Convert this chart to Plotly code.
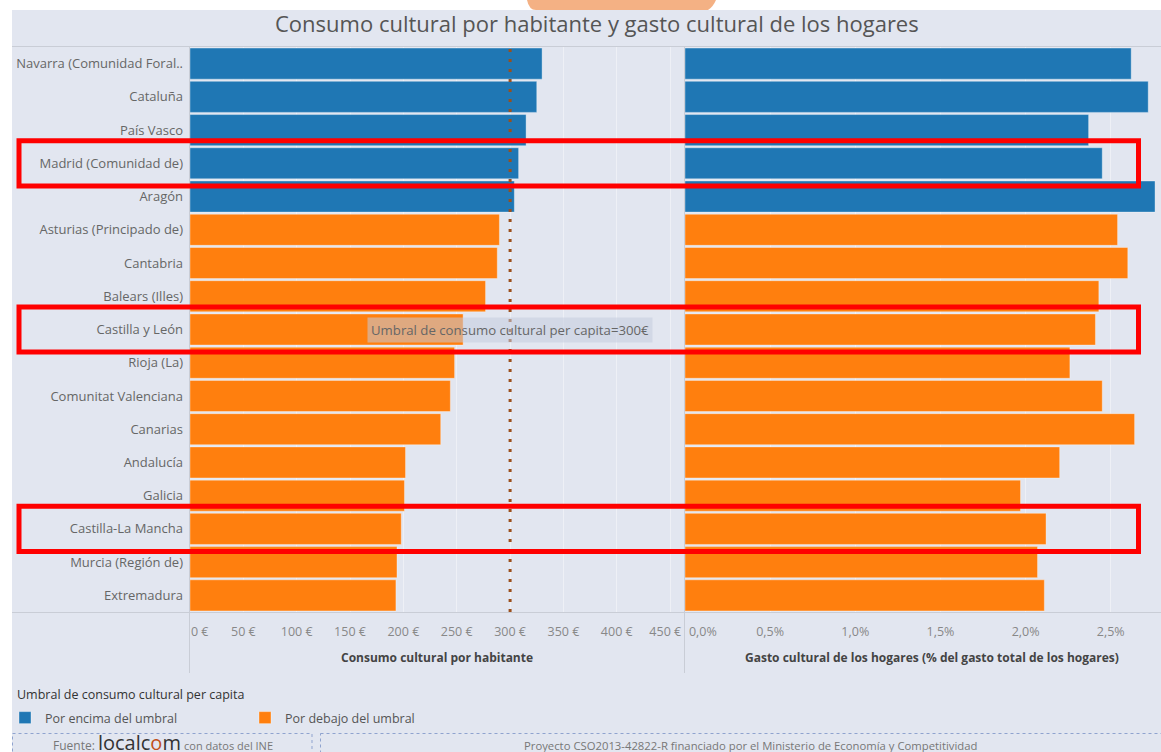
import plotly.graph_objects as go
from plotly.subplots import make_subplots

W, H = 1161, 752

# datos
regiones = [
    "Navarra (Comunidad Foral..", "Cataluña", "País Vasco", "Madrid (Comunidad de)",
    "Aragón", "Asturias (Principado de)", "Cantabria", "Balears (Illes)",
    "Castilla y León", "Rioja (La)", "Comunitat Valenciana", "Canarias",
    "Andalucía", "Galicia", "Castilla-La Mancha", "Murcia (Región de)", "Extremadura",
]
consumo = [330, 325, 315, 308, 304, 290, 288, 277, 256, 248, 244, 235, 202, 201, 198, 194, 193]
gasto = [2.62, 2.72, 2.37, 2.45, 2.76, 2.54, 2.60, 2.43, 2.41, 2.26, 2.45, 2.64, 2.20, 1.97, 2.12, 2.07, 2.11]
umbral = 300
destacadas = ["Madrid (Comunidad de)", "Castilla y León", "Castilla-La Mancha"]

ticks_euro = [0, 50, 100, 150, 200, 250, 300, 350, 400, 450]
ticks_pct = [0.0, 0.5, 1.0, 1.5, 2.0, 2.5]

AZUL = "#1f77b4"
NARANJA = "#ff7f0e"
FONDO = "#e2e6f0"
FONT = "Open Sans"
NB = "\u00a0"


def px(x):
    return x / W


def py(y):
    return 1 - y / H


# etiquetas de los extremos desplazadas hacia dentro, como en Tableau
txt_euro = [f"{t} €" for t in ticks_euro]
txt_euro[0] = NB * 6 + txt_euro[0]
txt_euro[-1] = txt_euro[-1] + NB * 3
txt_pct = [f"{t:.1f}%".replace(".", ",") for t in ticks_pct]
txt_pct[0] = NB * 11 + txt_pct[0]

encima = [c >= umbral for c in consumo]

fig = make_subplots(rows=1, cols=2, shared_yaxes=True)

grupos = [
    (True, "Por encima del umbral", AZUL),
    (False, "Por debajo del umbral", NARANJA),
]
for flag, nombre, color in grupos:
    ys = [r for r, e in zip(regiones, encima) if e == flag]
    xc = [c for c, e in zip(consumo, encima) if e == flag]
    xg = [g for g, e in zip(gasto, encima) if e == flag]
    fig.add_trace(go.Bar(
        y=ys, x=xc, orientation="h", name=nombre, legendgroup=nombre,
        marker=dict(color=color, line=dict(color="rgba(255,255,255,0.35)", width=1)),
        hovertemplate="%{y}<br>%{x:.0f} €<extra></extra>",
    ), row=1, col=1)
    fig.add_trace(go.Bar(
        y=ys, x=xg, orientation="h", name=nombre, legendgroup=nombre, showlegend=False,
        marker=dict(color=color, line=dict(color="rgba(255,255,255,0.35)", width=1)),
        hovertemplate="%{y}<br>%{x:.2f}%<extra></extra>",
    ), row=1, col=2)

shapes = [
    # fondo general
    dict(type="rect", xref="paper", yref="paper", x0=px(12), x1=1, y0=0, y1=py(10),
         fillcolor=FONDO, line=dict(width=0), layer="below"),
    # adorno superior
    dict(type="path", xref="paper", yref="paper", layer="below",
         path=f"M {px(527)},{py(0)} Q {px(529)},{py(10)} {px(536)},{py(10)} "
              f"L {px(708)},{py(10)} Q {px(713)},{py(7)} {px(716)},{py(0)} Z",
         fillcolor="#f4b184", line=dict(width=0)),
    # lineas de estructura
    dict(type="line", xref="paper", yref="paper", x0=px(12), x1=1, y0=py(46.5), y1=py(46.5),
         line=dict(color="#c9cdd6", width=1)),
    dict(type="line", xref="paper", yref="paper", x0=px(12), x1=1, y0=py(612.5), y1=py(612.5),
         line=dict(color="#c9cdd6", width=1)),
    dict(type="line", xref="paper", yref="paper", x0=px(189.5), x1=px(189.5), y0=py(46.5), y1=py(673),
         line=dict(color="#c9cdd6", width=1)),
    dict(type="line", xref="paper", yref="paper", x0=px(684.5), x1=px(684.5), y0=py(46.5), y1=py(673),
         line=dict(color="#c9cdd6", width=1)),
    # umbral
    dict(type="line", xref="x", yref="y domain", x0=umbral, x1=umbral, y0=0, y1=1,
         line=dict(color="#9c4f1c", width=3, dash="3px,7px")),
    # pie
    dict(type="rect", xref="paper", yref="paper", x0=px(12.5), x1=px(312), y0=py(733.5), y1=py(770),
         line=dict(color="#8fa3cf", width=1, dash="dot"), fillcolor="rgba(0,0,0,0)"),
    dict(type="rect", xref="paper", yref="paper", x0=px(320.5), x1=px(1170), y0=py(733.5), y1=py(770),
         line=dict(color="#8fa3cf", width=1, dash="dot"), fillcolor="rgba(0,0,0,0)"),
]

# recuadros rojos sobre las comunidades destacadas
for reg in destacadas:
    i = regiones.index(reg)
    shapes.append(dict(type="rect", xref="paper", yref="y", x0=px(19), x1=px(1138.5),
                       y0=i - 0.68, y1=i + 0.68, line=dict(color="#ff0000", width=5),
                       fillcolor="rgba(0,0,0,0)", layer="above"))

annotations = [
    dict(text="Consumo cultural por habitante y gasto cultural de los hogares",
         xref="paper", yref="paper", x=px(597), y=py(23), font=dict(family=FONT, size=22, color="#555")),
    dict(text=f"Umbral de consumo cultural per capita={umbral}€", xref="x", yref="y",
         x=umbral, y="Castilla y León",
         bgcolor="rgba(196,204,222,0.55)", borderpad=3,
         font=dict(family=FONT, size=13.2, color="#666")),
    dict(text="<b>Consumo cultural por habitante</b>", xref="paper", yref="paper",
         x=px(437), y=py(657), font=dict(family=FONT, size=12, color="#444")),
    dict(text="<b>Gasto cultural de los hogares (% del gasto total de los hogares)</b>",
         xref="paper", yref="paper", x=px(932), y=py(657),
         font=dict(family=FONT, size=12, color="#444")),
    dict(text="Umbral de consumo cultural per capita", xref="paper", yref="paper",
         x=px(15), y=py(694), xanchor="left", font=dict(family=FONT, size=12.5, color="#333")),
    dict(text="Fuente: <span style='font-size:20px;color:#333'>localc"
              "<span style='color:#c0501a'>o</span>m</span> "
              "<span style='font-size:11px'>con datos del INE</span>",
         xref="paper", yref="paper", x=px(163), y=py(742),
         font=dict(family=FONT, size=12, color="#777")),
    dict(text="Proyecto CSO2013-42822-R financiado por el Ministerio de Economía y Competitividad",
         xref="paper", yref="paper", x=px(750), y=py(745),
         font=dict(family=FONT, size=11.3, color="#777")),
]
for a in annotations:
    a.setdefault("xanchor", "center")
    a.setdefault("yanchor", "middle")
    a["showarrow"] = False

eje_x = dict(showgrid=True, gridcolor="#eef0f6", gridwidth=1, zeroline=False, showline=False,
             ticks="", ticklabelstandoff=10, automargin=False,
             tickfont=dict(family=FONT, size=12.5, color="#888"), fixedrange=True)
dominio_y = [py(612), py(47)]

fig.update_layout(
    width=W, height=H,
    margin=dict(l=0, r=0, t=0, b=0),
    paper_bgcolor="white",
    plot_bgcolor="rgba(0,0,0,0)",
    barmode="overlay",
    bargap=0.065,
    font=dict(family=FONT, size=12, color="#666"),
    xaxis=dict(eje_x, domain=[px(190), px(684)], range=[0, 463],
               tickvals=ticks_euro, ticktext=txt_euro),
    xaxis2=dict(eje_x, domain=[px(685), 1], range=[0, 2.795],
                tickvals=ticks_pct, ticktext=txt_pct),
    yaxis=dict(domain=dominio_y, categoryorder="array", categoryarray=regiones,
               autorange="reversed", showgrid=False, zeroline=False, ticks="", automargin=False,
               ticklabelstandoff=6, tickfont=dict(family=FONT, size=13, color="#666")),
    yaxis2=dict(domain=dominio_y, showgrid=False, zeroline=False, ticks="", automargin=False,
                showticklabels=False),
    legend=dict(orientation="h", x=px(5), y=py(703), xanchor="left", yanchor="top",
                bgcolor="rgba(0,0,0,0)", entrywidth=195, itemwidth=30,
                font=dict(family=FONT, size=12.5, color="#555"), traceorder="normal"),
    shapes=shapes,
    annotations=annotations,
)

fig.write_html("out.html", config={"displayModeBar": False},
               post_script="document.body.style.margin='0';document.body.style.overflow='hidden';")
